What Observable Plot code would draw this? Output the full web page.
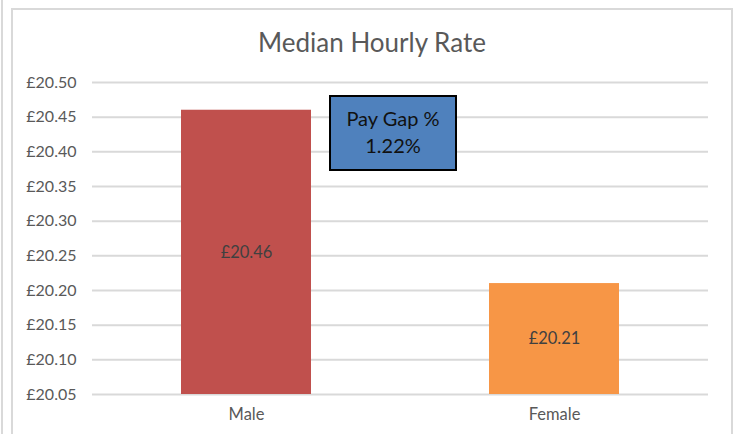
<!DOCTYPE html>
<html>
<head>
<meta charset="utf-8">
<script src="https://cdn.jsdelivr.net/npm/d3@7"></script>
<script src="https://cdn.jsdelivr.net/npm/@observablehq/plot@0.6"></script>
<style>
  html, body { margin: 0; padding: 0; background: #fff; overflow: hidden; }
  #wrap { position: relative; width: 735px; height: 434px; overflow: hidden; font-family: Lato, "Open Sans", sans-serif; }
  #wrap svg { position: absolute; left: 0; top: 0; }
  .outer { position: absolute; left: 1px; top: 0; width: 2px; height: 434px; background: #d9d9d9; }
  .frame { position: absolute; left: 11px; top: 8px; width: 718px; height: 500px; border: 2px solid #d9d9d9; }
  .title { position: absolute; left: 0; width: 744px; top: 26px; text-align: center; font-size: 26px; color: #595959; }
  .box { position: absolute; left: 329px; top: 95px; width: 128px; height: 76px; box-sizing: border-box;
         border: 2px solid #000; background: #4F81BD; color: #111; text-align: center;
         font-size: 20px; line-height: 27px; padding-top: 8px; }
</style>
</head>
<body>
<div id="wrap">
  <div class="outer"></div>
  <div class="frame"></div>
</div>
<script>
const categories = ["Male", "Female"];
const values = [20.46, 20.21];
const colors = ["#C0504D", "#F79646"];
const yTicks = [20.05, 20.10, 20.15, 20.20, 20.25, 20.30, 20.35, 20.40, 20.45, 20.50];
const titleText = "Median Hourly Rate";
const payGapLabel = "Pay Gap %";
const payGap = 1.22;

const data = categories.map((c, i) => ({cat: c, value: values[i], color: colors[i]}));
const yMin = yTicks[0];
const fmt = d => "£" + d.toFixed(2);

const chart = Plot.plot({
  width: 735,
  height: 434,
  marginLeft: 92,
  marginRight: 27,
  marginTop: 82,
  marginBottom: 40,
  style: {fontFamily: "Lato, 'Open Sans', sans-serif", background: "transparent", overflow: "visible"},
  x: {domain: categories, paddingInner: 0.578, paddingOuter: 0.289, label: null},
  y: {domain: [yTicks[0], yTicks[yTicks.length - 1]], label: null},
  marks: [
    Plot.ruleY(yTicks, {stroke: "#d9d9d9", strokeWidth: 2}),
    Plot.barY(data, {x: "cat", y1: () => yMin, y2: "value", fill: "color"}),
    Plot.text(data, {x: "cat", y: d => (yMin + d.value) / 2, text: d => fmt(d.value), fill: "#404040", fontSize: 16.5}),
    Plot.axisY(yTicks, {tickSize: 0, tickPadding: 16, tickFormat: fmt, fontSize: 16, fill: "#595959", label: null}),
    Plot.axisX(categories, {tickSize: 0, tickPadding: 14, fontSize: 16.5, fill: "#595959", label: null})
  ]
});

const wrap = document.getElementById("wrap");
wrap.appendChild(chart);

const title = document.createElement("div");
title.className = "title";
title.textContent = titleText;
wrap.appendChild(title);

const box = document.createElement("div");
box.className = "box";
box.innerHTML = payGapLabel + "<br>" + payGap.toFixed(2) + "%";
wrap.appendChild(box);
</script>
</body>
</html>
